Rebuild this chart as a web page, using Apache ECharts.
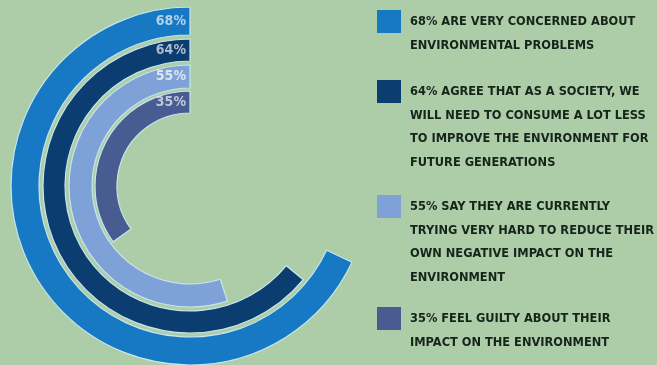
<!DOCTYPE html>
<html>
<head>
<meta charset="utf-8">
<script src="https://cdn.jsdelivr.net/npm/echarts@6/dist/echarts.min.js"></script>
<style>
html,body{margin:0;padding:0;background:#accda8;}
#c{width:657px;height:365px;}
</style>
</head>
<body>
<div id="c"></div>
<script>
// Data (outer ring first)
const categories = ['68%', '64%', '55%', '35%'];
const values = [68, 64, 55, 35];
const descriptions = [
  '68% ARE VERY CONCERNED ABOUT\nENVIRONMENTAL PROBLEMS',
  '64% AGREE THAT AS A SOCIETY, WE\nWILL NEED TO CONSUME A LOT LESS\nTO IMPROVE THE ENVIRONMENT FOR\nFUTURE GENERATIONS',
  '55% SAY THEY ARE CURRENTLY\nTRYING VERY HARD TO REDUCE THEIR\nOWN NEGATIVE IMPACT ON THE\nENVIRONMENT',
  '35% FEEL GUILTY ABOUT THEIR\nIMPACT ON THE ENVIRONMENT'
];
const angleMax = 100;

// Styles
const colors = ['#1778c3', '#0c3d70', '#7ea1d7', '#485c91'];
const labelColors = ['#d4e8f7', '#d3dbe6', '#f3f6fb', '#dde1ea'];
const ringRadii = [[151, 179], [125, 147], [98, 121], [73, 95]];
const center = [190, 186];
const legendIconTops = [10, 80, 195, 307];
const lineH = 23.5;
const iconW = 24, iconH = 23;
const font = '"DejaVu Sans Condensed", "DejaVu Sans", sans-serif';

const polar = [], angleAxis = [], radiusAxis = [], series = [], legend = [];
categories.forEach((cat, i) => {
  polar.push({ center: center, radius: ringRadii[i] });
  angleAxis.push({ polarIndex: i, type: 'value', min: 0, max: angleMax, startAngle: 90, clockwise: false, show: false });
  radiusAxis.push({ polarIndex: i, type: 'category', data: [cat], show: false });
  series.push({
    name: descriptions[i],
    type: 'bar',
    coordinateSystem: 'polar',
    polarIndex: i,
    barWidth: '100%',
    data: [values[i]],
    itemStyle: { color: colors[i], borderColor: '#c6e6ea', borderWidth: 1.2 },
    silent: true,
    z: 2
  });
  // value label at the start of each ring
  series.push({
    type: 'scatter',
    coordinateSystem: 'polar',
    polarIndex: i,
    symbolSize: 0,
    data: [[cat, 0]],
    label: {
      show: true, position: 'left', distance: 4,
      formatter: cat,
      color: labelColors[i], fontFamily: font, fontWeight: 'bold', fontSize: 14
    },
    silent: true,
    z: 3
  });
  const n = descriptions[i].split('\n').length;
  const H = n * lineH;
  // square icon aligned with the first text line (an invisible speck at the bottom sets the item height)
  const iconPath = 'path://M0,0H' + iconW + 'V' + iconH + 'H0Z M0,' + (H - 0.01) + 'h0.01v0.01h-0.01Z';
  legend.push({
    data: [{ name: descriptions[i], icon: iconPath }],
    orient: 'vertical',
    left: 377,
    top: legendIconTops[i],
    padding: 0,
    itemWidth: iconW,
    itemHeight: H,
    selectedMode: false,
    itemStyle: { borderWidth: 0 },
    textStyle: {
      color: '#16241a', fontFamily: font, fontWeight: 'bold', fontSize: 12.7,
      lineHeight: lineH, padding: [0, 0, 0, 4]
    }
  });
});

const chart = echarts.init(document.getElementById('c'), null, { renderer: 'canvas' });
chart.setOption({
  backgroundColor: '#accda8',
  animation: false,
  polar: polar,
  angleAxis: angleAxis,
  radiusAxis: radiusAxis,
  legend: legend,
  series: series
});
</script>
</body>
</html>
